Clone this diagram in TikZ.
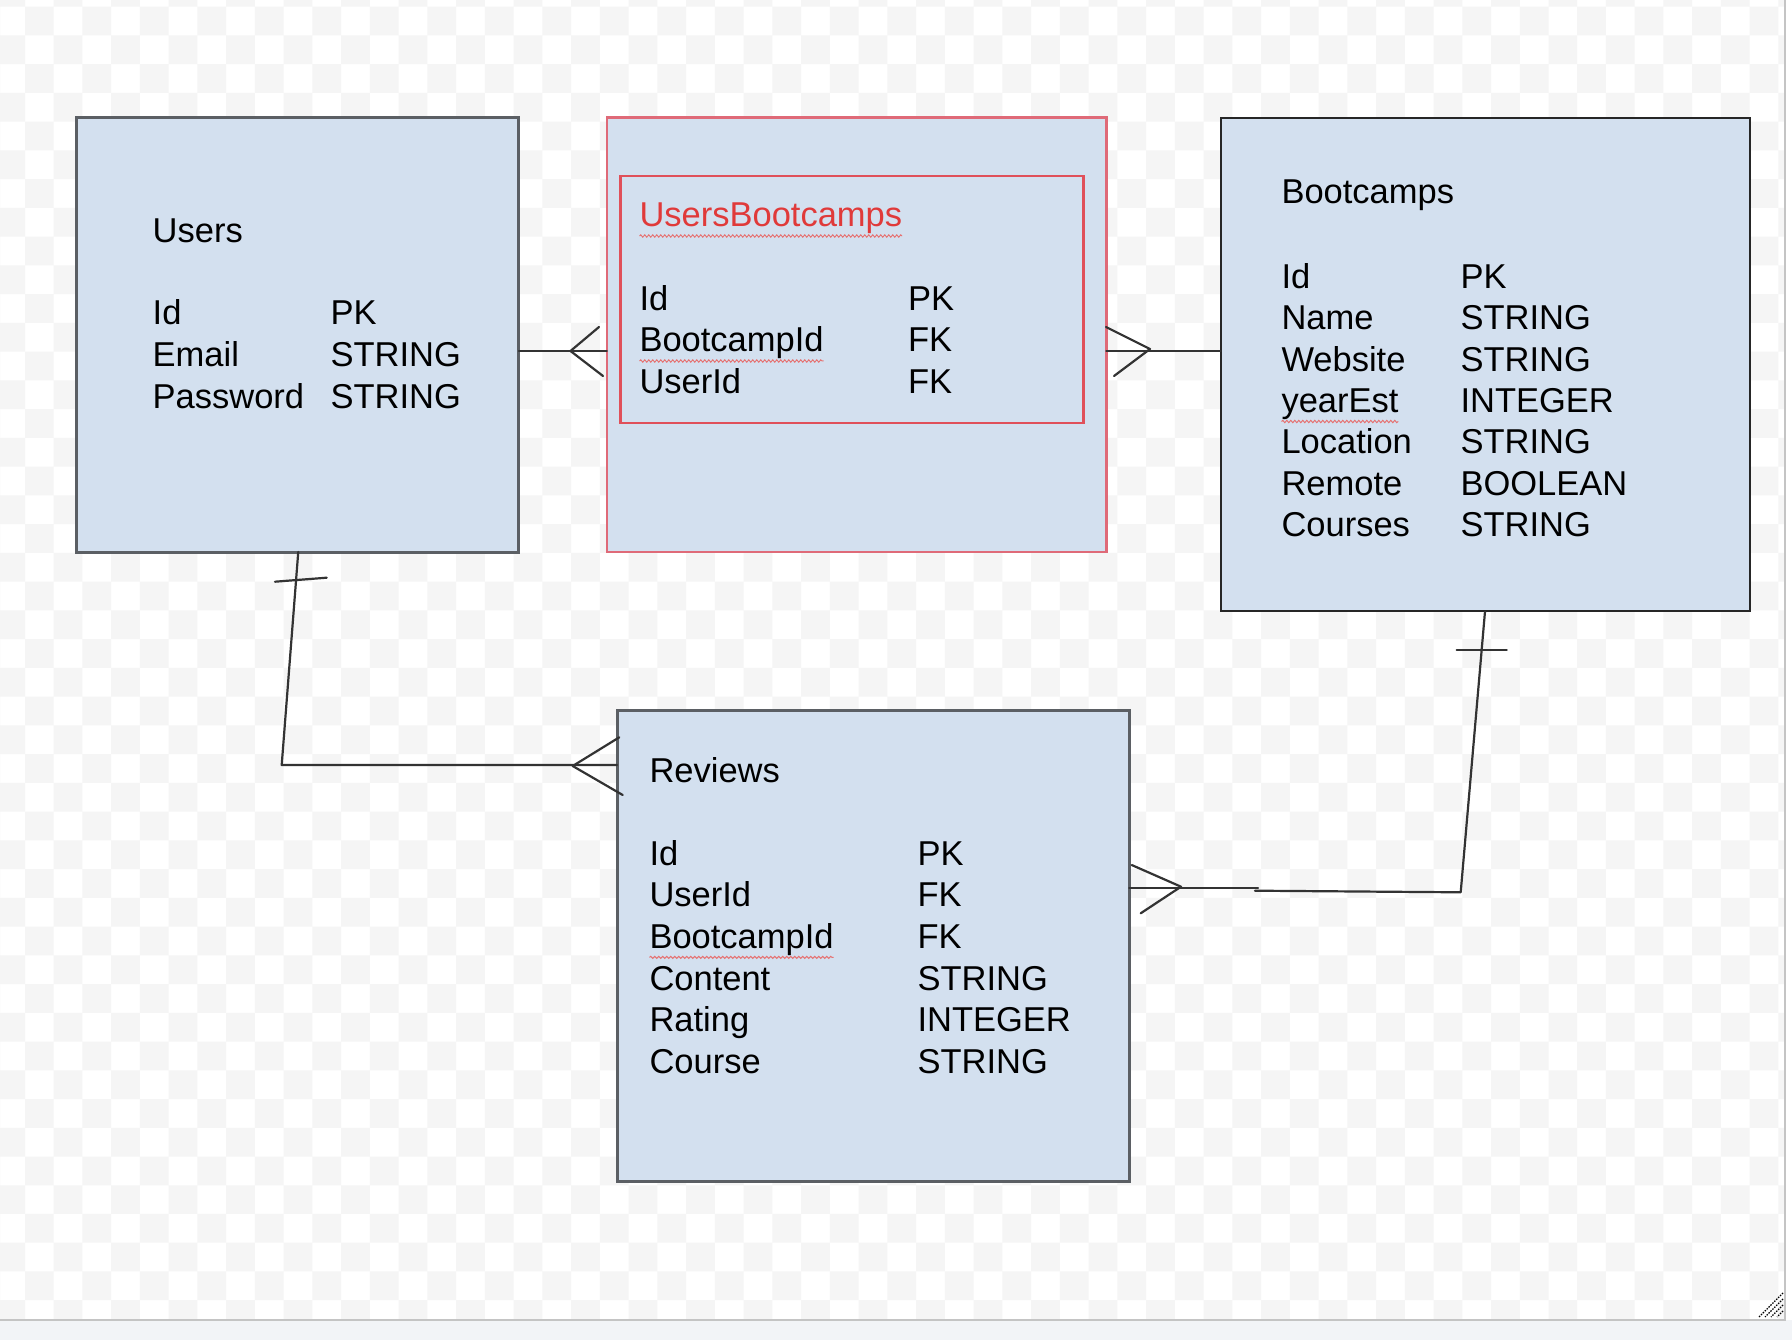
\documentclass[tikz,border=0pt]{standalone}
\usepackage{fontspec}
\setmainfont{Liberation Sans}
\usetikzlibrary{decorations.pathmorphing}
\definecolor{boxfill}{HTML}{D3E0EF}
\definecolor{checkgrey}{HTML}{F5F5F5}
\definecolor{edgegrey}{HTML}{5B5F64}
\definecolor{outerred}{HTML}{DF6A78}
\definecolor{innerred}{HTML}{E0505A}
\definecolor{titlered}{HTML}{E03A3A}
\definecolor{squig}{HTML}{E57373}
\definecolor{connc}{HTML}{333333}
\definecolor{stripc}{HTML}{F2F4F7}
\definecolor{framec}{HTML}{C4C4C4}
\tikzset{
  tbl/.style={draw=#1, fill=boxfill, rectangle, inner sep=0pt, outer sep=0pt, anchor=north west},
  txt/.style={anchor=base west, inner sep=0pt, outer sep=0pt, font=\fontsize{34.5}{41}\selectfont, text=black},
  conn/.style={draw=connc, line width=2.2pt, line cap=round, line join=round},
  squiggle/.style={draw=squig, line width=1pt, decorate, decoration={snake, segment length=4pt, amplitude=1.1pt}}
}
\begin{document}
\begin{tikzpicture}[x=1pt,y=-1pt]
\useasboundingbox (0,0) rectangle (1792,1340);
\fill[white] (0,0) rectangle (1792,1340);
% checkerboard background
\begin{scope}
\clip (0,0) rectangle (1785,1320);
\fill[checkgrey, even odd rule]
  foreach \c in {-1,1,...,61} {({25+\c*28.745},0) rectangle ++(28.745,1320)}
  foreach \r in {0,2,...,46} {(0,{6.7+\r*28.745}) rectangle ++(1785,28.745)};
\end{scope}
% window frame
\fill[stripc] (0,1320) rectangle (1792,1340);
\draw[framec, line width=1.5pt] (0,1320) -- (1785,1320) -- (1785,0);
\foreach \k in {0,1,2,3} {
  \draw[black, line width=1.2pt, dash pattern=on 1.5pt off 1.2pt] (1783,{1293+6*\k}) -- ({1759+6*\k},1317);
}

% tables
\node[tbl=edgegrey, line width=3pt, minimum width=442.3pt, minimum height=434.3pt] (users) at (76.6,117.7) {};
\node[tbl=outerred, line width=2.5pt, minimum width=499.4pt, minimum height=434.3pt] (ub) at (606.9,117.7) {};
\node[tbl=innerred, line width=2.5pt, minimum width=462.8pt, minimum height=247pt] (ubin) at (620.6,176) {};
\node[tbl=black!85, line width=2pt, minimum width=529.1pt, minimum height=493.7pt] (boot) at (1220.6,117.7) {};
\node[tbl=edgegrey, line width=3pt, minimum width=512.1pt, minimum height=470.9pt] (rev) at (617.1,710.9) {};

% Users text
\node[txt] (ut) at (152.7,242.7) {Users};
\node[txt] (u1a) at (152.7,325) {Id};
\node[txt] (u1b) at (330.5,325) {PK};
\node[txt] (u2a) at (152.7,366.8) {Email};
\node[txt] (u2b) at (330.5,366.8) {STRING};
\node[txt] (u3a) at (152.7,408.6) {Password};
\node[txt] (u3b) at (330.5,408.6) {STRING};

% UsersBootcamps text
\node[txt, text=titlered] (ubt) at (639.5,227) {UsersBootcamps};
\node[txt] (ub1a) at (639.5,310.5) {Id};
\node[txt] (ub1b) at (908,310.5) {PK};
\node[txt] (ub2a) at (639.5,352) {BootcampId};
\node[txt] (ub2b) at (908,352) {FK};
\node[txt] (ub3a) at (639.5,393.5) {UserId};
\node[txt] (ub3b) at (908,393.5) {FK};

% Bootcamps text
\node[txt] (bt) at (1281.5,204) {Bootcamps};
\node[txt] (b1a) at (1281.5,288.3) {Id};
\node[txt] (b1b) at (1460.5,288.3) {PK};
\node[txt] (b2a) at (1281.5,329.7) {Name};
\node[txt] (b2b) at (1460.5,329.7) {STRING};
\node[txt] (b3a) at (1281.5,371.1) {Website};
\node[txt] (b3b) at (1460.5,371.1) {STRING};
\node[txt] (b4a) at (1281.5,412.5) {yearEst};
\node[txt] (b4b) at (1460.5,412.5) {INTEGER};
\node[txt] (b5a) at (1281.5,453.9) {Location};
\node[txt] (b5b) at (1460.5,453.9) {STRING};
\node[txt] (b6a) at (1281.5,495.3) {Remote};
\node[txt] (b6b) at (1460.5,495.3) {BOOLEAN};
\node[txt] (b7a) at (1281.5,536.7) {Courses};
\node[txt] (b7b) at (1460.5,536.7) {STRING};

% Reviews text
\node[txt] (rt) at (649.5,782.7) {Reviews};
\node[txt] (r1a) at (649.5,865) {Id};
\node[txt] (r1b) at (917.5,865) {PK};
\node[txt] (r2a) at (649.5,906.7) {UserId};
\node[txt] (r2b) at (917.5,906.7) {FK};
\node[txt] (r3a) at (649.5,948.4) {BootcampId};
\node[txt] (r3b) at (917.5,948.4) {FK};
\node[txt] (r4a) at (649.5,990.1) {Content};
\node[txt] (r4b) at (917.5,990.1) {STRING};
\node[txt] (r5a) at (649.5,1031.8) {Rating};
\node[txt] (r5b) at (917.5,1031.8) {INTEGER};
\node[txt] (r6a) at (649.5,1073.5) {Course};
\node[txt] (r6b) at (917.5,1073.5) {STRING};

% spell-check squiggles
\draw[squiggle] ([yshift=-9pt]ubt.base west) -- ([yshift=-9pt]ubt.base east);
\draw[squiggle] ([yshift=-9pt]ub2a.base west) -- ([yshift=-9pt]ub2a.base east);
\draw[squiggle] ([yshift=-9pt]b4a.base west) -- ([yshift=-9pt]b4a.base east);
\draw[squiggle] ([yshift=-9pt]r3a.base west) -- ([yshift=-9pt]r3a.base east);

% connector Users -- UsersBootcamps (many at UsersBootcamps)
\coordinate (lvl1) at (0,351);
\coordinate (cf1) at (570.5,351);
\draw[conn] (users.east |- lvl1) -- (ub.west |- lvl1);
\draw[conn] (599,327) -- (cf1) -- (603,376);

% connector UsersBootcamps -- Bootcamps (many at UsersBootcamps)
\coordinate (cf2) at (1150,349);
\draw[conn] (ub.east |- lvl1) -- (boot.west |- lvl1);
\draw[conn] (1106,327) -- (cf2) -- (1114,376);

% connector Users -- Reviews
\coordinate (bend1) at (281.7,765);
\coordinate (cf3) at (572.7,766);
\draw[conn] ([xshift=0.5pt]users.south) -- (bend1) -- (rev.west |- bend1);
\draw[conn] (275,581.7) -- (326.7,577.7);
\draw[conn] (619.3,737.3) -- (cf3) -- (622.7,795);

% connector Bootcamps -- Reviews
\coordinate (bend2) at (1460.7,892.3);
\coordinate (mid2) at (1255,890.7);
\coordinate (cf4) at (1181,886.7);
\coordinate (lvl2) at (0,888.3);
\draw[conn] (1485,611.4) -- (bend2) -- (mid2);
\draw[conn] (1258,888.3) -- (rev.east |- lvl2);
\draw[conn] (1456.7,650) -- (1506.7,650);
\draw[conn] (1131.7,865) -- (cf4) -- (1140.7,913.3);
\end{tikzpicture}
\end{document}
